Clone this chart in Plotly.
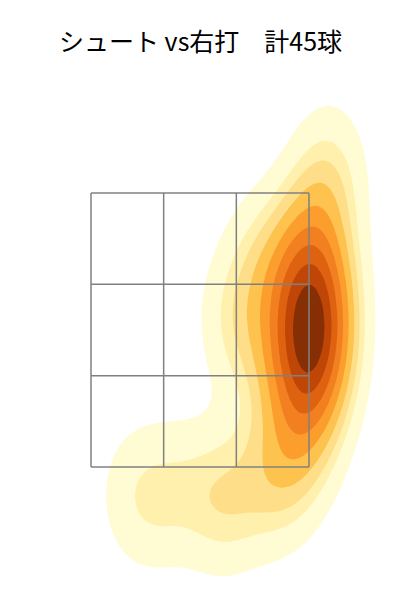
import numpy as np
import plotly.graph_objects as go

# Pitch locations (catcher's view, feet)
pitch_x = [0.70, 0.72, 0.68, 0.74, 0.71, 0.66, 0.76, 0.69, 0.73, 0.65,
           0.78, 0.70, 0.67, 0.75, 0.72, 0.64, 0.79, 0.70, 0.74, 0.68,
           0.73, 0.69, 0.77, 0.63,
           0.82, 0.86, 0.76,
           0.82, 0.81,
           0.45, 0.30, 0.50, 0.45, 0.20, 0.35,
           0.58, 0.50, 0.42, 0.60,
           0.25, 0.05, -0.15, -0.30, -0.45, 0.15]
pitch_y = [2.38, 2.53, 2.28, 2.33, 2.63, 2.43, 2.23, 2.73, 2.08, 2.53,
           2.43, 2.88, 1.98, 2.78, 1.88, 2.28, 2.58, 3.03, 3.23, 1.78,
           2.68, 2.18, 2.93, 2.83,
           3.50, 3.72, 3.35,
           2.40, 2.85,
           2.75, 2.45, 3.10, 2.20, 2.60, 2.95,
           1.70, 1.50, 1.35, 1.45,
           1.35, 1.30, 1.35, 1.25, 1.30, 1.20]

zone_x = [-0.708, -0.236, 0.236, 0.708]
zone_y = [1.5, 2.1667, 2.8333, 3.5]
title_text = "シュート vs右打　計45球"
band_colors = ["rgb(255,251,211)", "rgb(255,240,174)", "rgb(254,222,136)",
               "rgb(254,194,78)", "rgb(252,158,46)", "rgb(243,128,32)",
               "rgb(223,98,17)", "rgb(192,70,8)", "rgb(134,47,4)"]

# Gaussian KDE (Scott bandwidth per axis)
px_arr = np.asarray(pitch_x)
py_arr = np.asarray(pitch_y)
n = len(px_arr)
factor = n ** (-1.0 / 6.0)
bx = factor * px_arr.std(ddof=1)
by = factor * py_arr.std(ddof=1)
gx = np.linspace(-3.0, 3.0, 301)
gy = np.linspace(-1.5, 6.5, 401)
X, Y = np.meshgrid(gx, gy)
dx = (X[..., None] - px_arr) / bx
dy = (Y[..., None] - py_arr) / by
dens = np.exp(-0.5 * (dx * dx + dy * dy)).sum(-1)

# iso-proportion transform (mass with lower density)
flat = dens.ravel()
order = np.argsort(flat)
cum = np.cumsum(flat[order])
cum /= cum[-1]
prop = np.empty_like(flat)
prop[order] = cum
Z = prop.reshape(dens.shape)

levels = np.linspace(0.05, 1.0, 10)
size = levels[1] - levels[0]
nb = len(band_colors)
colorscale = [[0.0, "rgba(255,255,255,0)"]]
for i, c in enumerate(band_colors):
    colorscale.append([(i + 1) / nb, c])

fig = go.Figure()
fig.add_trace(go.Contour(
    x=gx, y=gy, z=Z,
    contours=dict(start=levels[0], end=levels[-2], size=size, coloring="fill"),
    colorscale=colorscale, showscale=False, line=dict(width=0),
    hoverinfo="skip",
))

for xv in zone_x:
    fig.add_shape(type="line", x0=xv, x1=xv, y0=zone_y[0], y1=zone_y[-1],
                  line=dict(color="gray", width=1.5), layer="above")
for yv in zone_y:
    fig.add_shape(type="line", x0=zone_x[0], x1=zone_x[-1], y0=yv, y1=yv,
                  line=dict(color="gray", width=1.5), layer="above")

fig.add_annotation(text=title_text, xref="paper", yref="paper", x=0.48,
                   y=1 - 32 / 600, xanchor="center", yanchor="middle",
                   showarrow=False,
                   font=dict(family="Noto Sans CJK JP", size=25, color="black"))

fig.update_layout(
    width=400, height=600,
    margin=dict(l=0, r=0, t=0, b=0),
    paper_bgcolor="white", plot_bgcolor="white",
    xaxis=dict(range=[-1.2471, 1.3511], visible=False, fixedrange=True),
    yaxis=dict(range=[0.4708, 4.8504], visible=False, fixedrange=True),
    showlegend=False,
)
fig.write_html("out.html")
